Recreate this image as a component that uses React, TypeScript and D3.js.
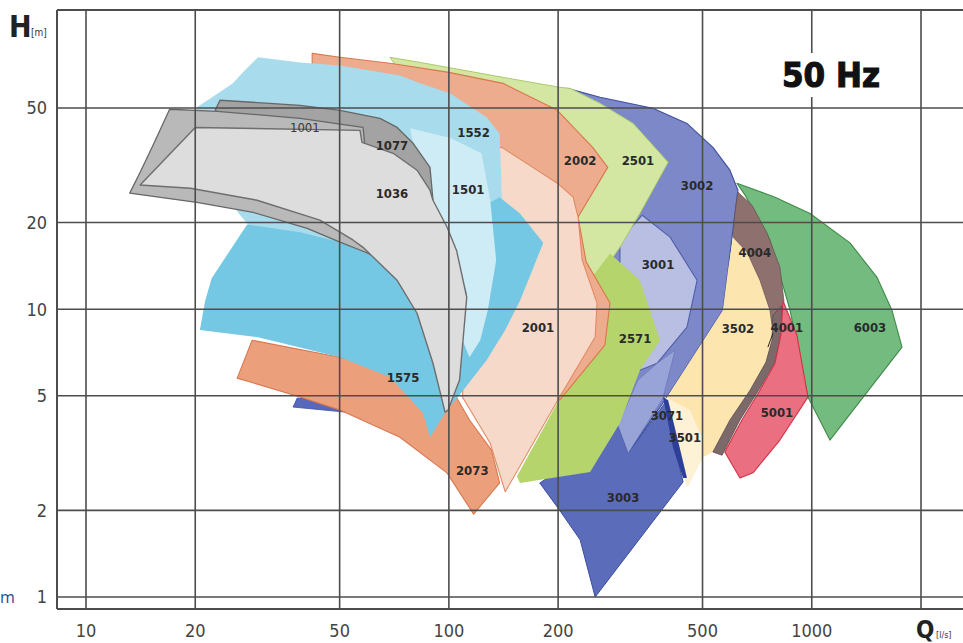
import React from 'react';
import * as d3 from 'd3';

type Pt = [number, number];

const W = 963;
const H = 643;

// axis values
const xTicks = [10, 20, 50, 100, 200, 500, 1000];
const xGrid = [10, 20, 50, 100, 200, 500, 1000, 2000];
const yTicks = [1, 2, 5, 10, 20, 50];

// pump operating areas (Q in l/s, H in m)
const pSliver: Pt[] = [[38.2, 4.91], [37.2, 4.57], [51.7, 4.39], [53.4, 4.75]];
const p6003: Pt[] = [[622, 27.4], [792, 24.5], [989, 21.5], [1274, 17.0], [1513, 12.9], [1663, 9.92], [1773, 7.38], [1122, 3.51], [976, 4.95], [871, 9.92], [767, 17.4], [655, 24.9]];
const p3002: Pt[] = [[212, 58.5], [261, 54.5], [365, 49.9], [453, 44.2], [534, 36.5], [595, 30.4], [626, 25.9], [614, 21.5], [603, 17.8], [588, 13.7], [569, 9.92], [399, 4.95], [312, 3.16], [287, 4.12], [261, 10.7], [261, 35.7]];
const p3003: Pt[] = [[178, 2.49], [202, 2.0], [230, 1.58], [253, 1.0], [442, 2.51], [415, 3.51], [399, 4.83], [312, 3.16], [292, 3.96], [202, 2.76]];
const p3001: Pt[] = [[341, 21.2], [407, 17.8], [483, 12.6], [453, 8.66], [375, 6.49], [336, 6.14], [296, 10.7], [296, 17.4]];
const p3071: Pt[] = [[375, 6.49], [420, 7.2], [389, 4.91], [312, 3.16], [292, 3.96], [332, 5.67]];
const p3502: Pt[] = [[607, 17.8], [663, 15.8], [720, 12.6], [767, 9.92], [782, 8.12], [753, 6.55], [676, 5.23], [595, 4.12], [534, 3.19], [501, 3.06], [453, 2.41], [442, 2.76], [399, 4.95], [569, 9.92], [588, 13.7]];
const p3501: Pt[] = [[394, 4.95], [462, 4.46], [501, 3.51], [501, 3.06], [456, 2.41], [442, 2.72], [420, 3.37]];
const p3501Edge: Pt[] = [[389, 4.95], [402, 4.83], [433, 3.29], [453, 2.59], [442, 2.59], [415, 3.29]];
const p4004: Pt[] = [[626, 25.5], [684, 23.0], [753, 18.4], [817, 14.0], [838, 10.7], [828, 9.16], [782, 8.32], [767, 9.92], [720, 12.6], [663, 15.8], [607, 17.8], [614, 21.5]];
const p4001: Pt[] = [[828, 10.3], [822, 8.12], [792, 6.55], [720, 5.32], [634, 4.12], [566, 3.11], [534, 3.19], [595, 4.12], [676, 5.23], [748, 6.55], [777, 7.8], [782, 9.53]];
const p5001: Pt[] = [[833, 10.7], [910, 8.12], [976, 4.95], [817, 3.51], [689, 2.7], [634, 2.59], [576, 3.19], [642, 4.12], [720, 5.23], [792, 6.49], [822, 8.12]];
const p2501: Pt[] = [[68.8, 75.0], [83.3, 72.0], [141, 63.9], [202, 59.0], [216, 58.5], [261, 51.9], [322, 44.2], [402, 32.4], [336, 21.5], [296, 16.4], [261, 13.1], [223, 8.46], [202, 8.46], [178, 16.0], [138, 35.7], [83.3, 53.2]];
const p2571: Pt[] = [[278, 15.6], [336, 12.6], [382, 7.8], [336, 6.14], [296, 4.02], [245, 2.72], [157, 2.49], [154, 2.63], [199, 4.72], [266, 7.5], [278, 10.3], [248, 12.9]];
const p2002: Pt[] = [[42.0, 77.4], [50.1, 75.0], [68.8, 71.5], [100, 66.5], [141, 60.9], [199, 49.1], [249, 36.5], [274, 31.1], [227, 20.9], [239, 14.6], [278, 10.5], [269, 7.5], [202, 4.83], [107, 10.7], [83.3, 35.7], [42.0, 67.6]];
const p2073: Pt[] = [[28.7, 7.8], [50.1, 6.81], [83.3, 5.67], [104, 5.03], [114, 4.12], [131, 3.24], [138, 2.49], [117, 1.94], [98.8, 2.7], [73.3, 3.59], [50.1, 4.46], [38.9, 4.95], [26.1, 5.76]];
const p2001: Pt[] = [[140, 36.5], [167, 31.6], [199, 27.4], [220, 24.5], [227, 20.9], [233, 14.8], [256, 10.5], [253, 8.0], [202, 4.95], [143, 2.32], [130, 3.42], [109, 4.95], [114, 16.0], [122, 35.7]];
const p1552: Pt[] = [[29.8, 75.0], [38.9, 72.0], [50.1, 70.3], [73.3, 64.9], [83.3, 60.9], [101, 56.2], [127, 46.4], [138, 40.8], [140, 23.9], [138, 10.7], [107, 5.67], [53.4, 10.7], [29.2, 18.5], [26.6, 21.2], [19.4, 35.7], [20.2, 50.3], [22.0, 54.0], [25.4, 60.9], [27.4, 67.6]];
const p1575: Pt[] = [[20.6, 8.46], [21.3, 10.7], [22.2, 12.8], [27.8, 19.7], [38.9, 18.5], [50.1, 17.1], [64.6, 15.4], [94.5, 18.8], [138, 24.5], [157, 21.5], [182, 17.0], [170, 13.7], [157, 10.7], [143, 8.46], [127, 6.65], [107, 5.03], [98.8, 4.46], [88.7, 3.59], [84.9, 4.35], [68.8, 5.81], [50.1, 6.81], [29.6, 8.0]];
const p1501: Pt[] = [[78.2, 42.5], [101, 39.3], [123, 34.8], [130, 23.9], [135, 14.8], [128, 9.92], [122, 7.8], [114, 6.81], [109, 7.8], [112, 11.4], [98.8, 19.3], [90.4, 23.9], [88.7, 31.1], [79.7, 37.7]];
const p1077: Pt[] = [[23.4, 53.2], [38.9, 51.1], [50.1, 49.1], [64.6, 46.0], [72.0, 42.8], [79.7, 37.7], [88.7, 31.1], [90.4, 23.9], [73.3, 23.9], [38.9, 32.9], [22.7, 49.1]];
const p1001: Pt[] = [[17.0, 49.5], [23.0, 48.7], [38.9, 46.0], [58.0, 42.8], [58.7, 36.8], [61.4, 15.4], [58.7, 15.8], [50.1, 17.1], [40.7, 19.1], [28.9, 21.7], [20.2, 23.5], [13.2, 25.3], [14.1, 29.9], [15.3, 37.1]];
const p1036: Pt[] = [[20.0, 42.8], [56.9, 41.8], [57.6, 38.0], [70.2, 34.8], [81.7, 30.4], [88.7, 25.9], [90.4, 23.9], [98.8, 19.3], [105, 16.0], [112, 11.0], [107, 5.67], [99.5, 4.46], [97.6, 4.39], [90.4, 6.49], [81.7, 9.68], [72.0, 12.6], [58.0, 16.4], [54.4, 17.4], [44.1, 20.4], [29.6, 23.9], [19.4, 26.3], [14.1, 27.0]];

// label names and their positions (Q, H)
const labelNames = ['1001', '1077', '1036', '1552', '1501', '1575', '2073', '2001', '2002', '2501', '3002', '3001', '2571', '3502', '4001', '4004', '6003', '5001', '3071', '3501', '3003'];
const labelQ = [40.1, 69.7, 69.7, 117, 113, 74.8, 116, 176, 230, 332, 483, 377, 326, 626, 854, 697, 1447, 802, 399, 447, 302];
const labelH = [42.8, 37.1, 25.3, 41.2, 26.1, 5.81, 2.76, 8.66, 32.9, 32.9, 27.0, 14.3, 7.93, 8.59, 8.66, 15.8, 8.66, 4.39, 4.28, 3.57, 2.21];
const leader4001: Pt[] = [[782, 8.25], [757, 7.38]];

interface Area { pts: Pt[]; fill: string; stroke: string; sw: number; }

const areas: Area[] = [
  { pts: pSliver, fill: '#5868bb', stroke: '#3c4c9e', sw: 0.8 },
  { pts: p6003, fill: '#74bb7f', stroke: '#3e8a48', sw: 1.1 },
  { pts: p3002, fill: '#7d88c8', stroke: '#3e4fa0', sw: 1.1 },
  { pts: p3003, fill: '#5b6cbb', stroke: '#3c4c9e', sw: 1.0 },
  { pts: p3001, fill: '#b9bee3', stroke: '#4f5fa9', sw: 1.1 },
  { pts: p3071, fill: '#98a3d7', stroke: '#6170b5', sw: 0.6 },
  { pts: p3502, fill: '#fde5af', stroke: 'none', sw: 0 },
  { pts: p3501, fill: '#fdf1d6', stroke: 'none', sw: 0 },
  { pts: p3501Edge, fill: '#2d3f98', stroke: 'none', sw: 0 },
  { pts: p4004, fill: '#8e716e', stroke: '#6a5553', sw: 0.8 },
  { pts: p4001, fill: '#7c6a6a', stroke: '#5a4a4a', sw: 0.8 },
  { pts: p5001, fill: '#ea6f80', stroke: '#d23246', sw: 1.1 },
  { pts: p2501, fill: '#d3e6a2', stroke: '#a9cc6a', sw: 1.0 },
  { pts: p2571, fill: '#b5d46b', stroke: 'none', sw: 0 },
  { pts: p2002, fill: '#eeac8e', stroke: '#d9774f', sw: 1.1 },
  { pts: p2073, fill: '#eba07b', stroke: '#d9774f', sw: 1.1 },
  { pts: p2001, fill: '#f7d9ca', stroke: '#e08a62', sw: 1.1 },
  { pts: p1552, fill: '#a8dbec', stroke: 'none', sw: 0 },
  { pts: p1575, fill: '#74c8e4', stroke: 'none', sw: 0 },
  { pts: p1501, fill: '#cdecf6', stroke: 'none', sw: 0 },
  { pts: p1077, fill: '#a3a3a3', stroke: '#676767', sw: 1.3 },
  { pts: p1001, fill: '#b9b9b9', stroke: '#676767', sw: 1.3 },
  { pts: p1036, fill: '#dddddd', stroke: '#6e6e6e', sw: 1.4 },
];

const FONT = "'DejaVu Sans Condensed', 'DejaVu Sans', sans-serif";

export default function App() {
  const x = d3.scaleLog().domain([10, 2000]).range([86, 921]);
  const y = d3.scaleLog().domain([1, 50]).range([597, 108]);
  const line = d3.line<Pt>().x((d) => x(d[0])).y((d) => y(d[1]));

  const left = 57, top = 10, bottom = 609, right = W + 2;

  return (
    <svg width={W} height={H} style={{ position: 'absolute', left: 0, top: 0, background: '#fff' }}>
      <rect x={0} y={0} width={W} height={H} fill="#fff" />
      {areas.map((a, i) => (
        <path key={i} d={line(a.pts) + 'Z'} fill={a.fill} stroke={a.stroke} strokeWidth={a.sw} strokeLinejoin="round" />
      ))}
      {/* grid */}
      {xGrid.map((v) => (
        <line key={'gx' + v} x1={x(v)} x2={x(v)} y1={top} y2={bottom} stroke="#4d4d4d" strokeWidth={1.6} />
      ))}
      {yTicks.map((v) => (
        <line key={'gy' + v} x1={left} x2={right} y1={y(v)} y2={y(v)} stroke="#4d4d4d" strokeWidth={1.6} />
      ))}
      {/* frame */}
      <line x1={left} x2={left} y1={top} y2={bottom} stroke="#4d4d4d" strokeWidth={2} />
      <line x1={left} x2={right} y1={top} y2={top} stroke="#4d4d4d" strokeWidth={2} />
      <line x1={left} x2={right} y1={bottom} y2={bottom} stroke="#4d4d4d" strokeWidth={2} />
      {/* 50 Hz */}
      <rect x={774} y={53} width={118} height={44} fill="#fff" />
      <text x={782} y={87} fontFamily="'DejaVu Sans', sans-serif" fontWeight="bold" fontSize={34} textLength={98} lengthAdjust="spacingAndGlyphs" fill="#111" stroke="#111" strokeWidth={1.2}>50 Hz</text>
      {/* leader */}
      <path d={line(leader4001) || ''} stroke="#222" strokeWidth={1} fill="none" />
      {/* pump labels */}
      {labelNames.map((n, i) => (
        <text key={n} x={x(labelQ[i])} y={y(labelH[i])} textAnchor="middle" dominantBaseline="central"
          fontFamily={FONT} fontStretch="condensed" fontWeight={n === '1001' ? 'normal' : 'bold'} fontSize={13}
          fill={n === '1001' ? '#3a3a3a' : '#2a2a2a'}>{n}</text>
      ))}
      {/* axis tick labels */}
      {xTicks.map((v) => (
        <text key={'tx' + v} x={x(v)} y={637} textAnchor="middle" fontFamily={FONT} fontStretch="condensed" fontSize={18} fill="#444">{v}</text>
      ))}
      {yTicks.map((v) => (
        <text key={'ty' + v} x={47} y={y(v)} dy="0.36em" textAnchor="end" fontFamily={FONT} fontStretch="condensed" fontSize={18} fill="#444">{v}</text>
      ))}
      {/* axis titles */}
      <text x={9} y={37} fontFamily={FONT} fontStretch="condensed" fontWeight="bold" fontSize={30} fill="#222">H</text>
      <text x={31} y={36} fontFamily={FONT} fontStretch="condensed" fontSize={10} fill="#333">[m]</text>
      <text x={916} y={638} fontFamily={FONT} fontStretch="condensed" fontWeight="bold" fontSize={24} fill="#222">Q</text>
      <text x={936} y={638} fontFamily={FONT} fontStretch="condensed" fontSize={9} fill="#333">[l/s]</text>
      <text x={0} y={603} fontFamily="'Open Sans', sans-serif" fontSize={16} fill="#1e4d8c">m</text>
    </svg>
  );
}
